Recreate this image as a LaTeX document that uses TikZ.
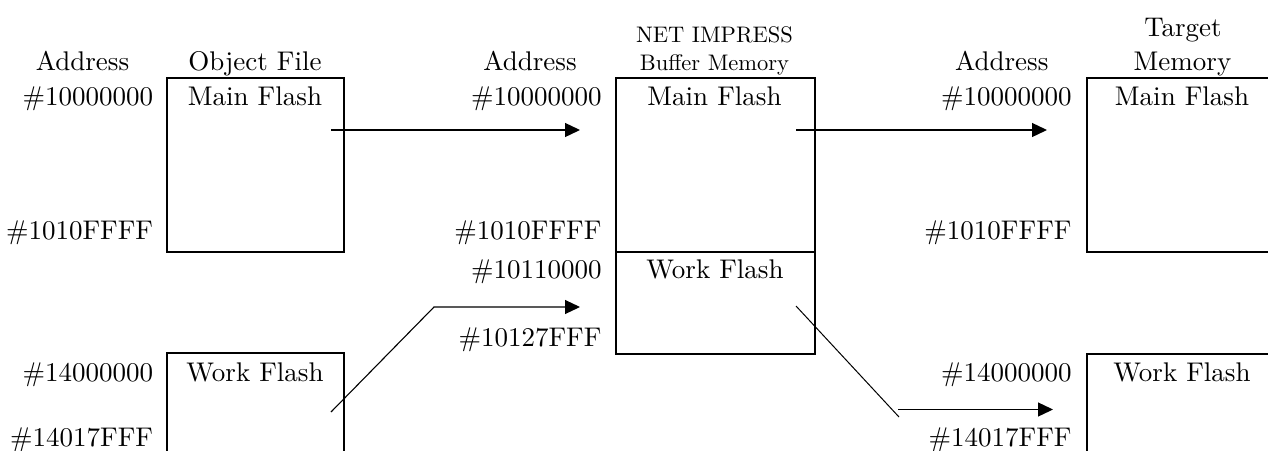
\documentclass[tikz,border=0pt]{standalone}
\usepackage{fontspec}
\setmainfont{lmroman10-regular.otf}
\usetikzlibrary{arrows.meta}
\begin{document}
\begin{tikzpicture}[x=1pt,y=-1pt,
  lbl/.style={inner sep=0pt, anchor=base, font=\fontsize{27}{30}\selectfont},
  addr/.style={lbl, anchor=base east},
  small/.style={inner sep=0pt, anchor=base, font=\fontsize{22.5}{26}\selectfont},
  mem/.style={draw, line width=1.5pt, inner sep=0pt, anchor=north west},
  arr/.style={line width=1.3pt, -{Triangle[length=15pt,width=14pt]}},
  lead/.style={line width=1pt}]
\useasboundingbox (0,0) rectangle (1268,450);
\clip (0,0) rectangle (1268,450);

% memory blocks
\node[mem, minimum width=177pt, minimum height=174pt] (objmain) at (166,77) {};
\node[mem, minimum width=177pt, minimum height=160pt] (objwork) at (166,352) {};
\node[mem, minimum width=199pt, minimum height=174pt] (bufmain) at (615,77) {};
\node[mem, minimum width=199pt, minimum height=102pt] (bufwork) at (615,251) {};
\node[mem, minimum width=230pt, minimum height=174pt] (tgtmain) at (1086,77) {};
\node[mem, minimum width=230pt, minimum height=160pt] (tgtwork) at (1086,353) {};

% column headings
\node[lbl] (hadr1) at (82.5,70.5) {Address};
\node[lbl] (hobj) at (255,70.5) {Object File};
\node[lbl] (hadr2) at (530,70.5) {Address};
\node[small] (hnet) at (714.5,42.3) {NET IMPRESS};
\node[small] (hbuf) at (714.5,70.5) {Buffer Memory};
\node[lbl] (hadr3) at (1001.7,70.5) {Address};
\node[lbl] (htgt) at (1183,36) {Target};
\node[lbl] (hmem) at (1182.5,70.5) {Memory};

% block names
\node[lbl] (tobjmain) at (255,105) {Main Flash};
\node[lbl] (tobjwork) at (255,381) {Work Flash};
\node[lbl] (tbufmain) at (714.5,105) {Main Flash};
\node[lbl] (tbufwork) at (715,278.3) {Work Flash};
\node[lbl] (ttgtmain) at (1182,105) {Main Flash};
\node[lbl] (ttgtwork) at (1182,381) {Work Flash};

% addresses
\node[addr] (a1) at (153.3,105) {\#10000000};
\node[addr] (a2) at (153.3,239) {\#1010FFFF};
\node[addr] (a3) at (153.3,381) {\#14000000};
\node[addr] (a4) at (153.3,446.7) {\#14017FFF};
\node[addr] (b1) at (601.7,105) {\#10000000};
\node[addr] (b2) at (601.7,239) {\#1010FFFF};
\node[addr] (b3) at (601.7,278.3) {\#10110000};
\node[addr] (b4) at (601.7,346) {\#10127FFF};
\node[addr] (c1) at (1071.7,105) {\#10000000};
\node[addr] (c2) at (1071.7,239) {\#1010FFFF};
\node[addr] (c3) at (1071.7,381) {\#14000000};
\node[addr] (c4) at (1071.7,446.7) {\#14017FFF};

% transfer arrows
\coordinate (m1s) at (331,130);
\coordinate (m1e) at (580,130);
\coordinate (m2s) at (796,130);
\coordinate (m2e) at (1047,130);
\coordinate (w1s) at (331,412);
\coordinate (w1k) at (434,307);
\coordinate (w1e) at (580,307);
\coordinate (w2s) at (796,306);
\coordinate (w2k) at (899,417);
\coordinate (w2a) at (898,409.5);
\coordinate (w2e) at (1053,409.5);

\draw[arr] (m1s) -- (m1e);
\draw[arr] (m2s) -- (m2e);
\draw[arr, line width=1.1pt] (w1s) -- (w1k) -- (w1e);
\draw[lead] (w2s) -- (w2k);
\draw[arr] (w2a) -- (w2e);
\end{tikzpicture}
\end{document}
